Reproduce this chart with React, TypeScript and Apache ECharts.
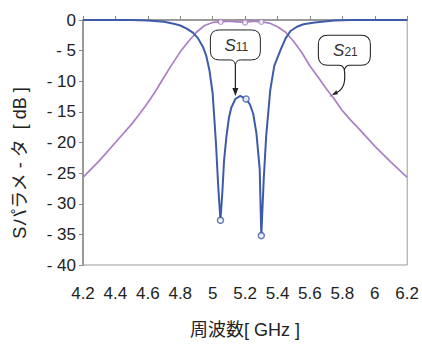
import React, { useEffect, useRef } from "react";
import * as echarts from "echarts";

// S11 (reflection) in dB vs frequency in GHz
const s11Data: [number, number][] = [
  [4.2, 0], [4.5, 0], [4.6, -0.1], [4.7, -0.3], [4.76, -0.6], [4.8, -0.9],
  [4.84, -1.4], [4.88, -2.1], [4.91, -3.0], [4.94, -4.4], [4.96, -5.8],
  [4.98, -8.2], [5.0, -12.0], [5.02, -20.0], [5.035, -27.5], [5.048, -32.7],
  [5.06, -28.0], [5.07, -23.0], [5.085, -19.0], [5.1, -16.0], [5.115, -14.3],
  [5.14, -12.9], [5.17, -12.4], [5.206, -12.9], [5.23, -13.8], [5.25, -15.3],
  [5.27, -18.5], [5.29, -24.3], [5.3, -35.2], [5.315, -26.0], [5.33, -19.0],
  [5.355, -11.5], [5.38, -7.5], [5.42, -4.8], [5.45, -3.0], [5.48, -1.8],
  [5.52, -1.1], [5.56, -0.7], [5.63, -0.4], [5.75, -0.1], [5.85, 0], [6.2, 0],
];
const s11Markers: [number, number][] = [[5.048, -32.7], [5.206, -12.9], [5.3, -35.2]];

// S21 (transmission) in dB vs frequency in GHz
const s21Data: [number, number][] = [
  [4.2, -25.7], [4.3, -23.0], [4.4, -20.0], [4.5, -17.0], [4.55, -15.3],
  [4.6, -13.5], [4.65, -11.5], [4.7, -9.3], [4.75, -7.2], [4.8, -5.2],
  [4.85, -3.5], [4.9, -2.0], [4.95, -0.9], [5.0, -0.4], [5.05, -0.3],
  [5.1, -0.2], [5.15, -0.3], [5.2, -0.4], [5.25, -0.2], [5.3, -0.3],
  [5.35, -0.5], [5.4, -1.1], [5.45, -2.0], [5.5, -3.5], [5.55, -5.3],
  [5.6, -7.5], [5.65, -9.3], [5.7, -11.2], [5.75, -12.9], [5.8, -14.8],
  [5.85, -16.3], [5.9, -17.7], [6.0, -20.6], [6.1, -23.2], [6.2, -25.7],
];
const s21Markers: [number, number][] = [[5.05, -0.3], [5.2, -0.4], [5.3, -0.3]];

// annotation anchors (data coords of the arrow tips)
const s11Arrow: [number, number] = [5.14, -12.4];
const s21Arrow: [number, number] = [5.72, -12.6];

const xName = "周波数[ GHz ]";
const yName = "Sパラメ - タ  [ dB ]";

const BLUE = "#3d5ba8";
const PURPLE = "#a980c4";
const FONT = "'Liberation Sans', Arial, 'Noto Sans CJK JP', sans-serif";

const calloutPath =
  "M 9 0 L 41 0 Q 50 0 50 9 L 50 21 Q 50 30 41 30 L 30 30 Q 26 30 25 35 Q 24 30 20 30 L 9 30 Q 0 30 0 21 L 0 9 Q 0 0 9 0 Z";

let registered = false;

export default function App() {
  const ref = useRef<HTMLDivElement>(null);
  useEffect(() => {
    if (!ref.current) return;
    if (!registered) {
      echarts.graphic.registerShape("callout", echarts.graphic.extendPath(calloutPath, {}) as any);
      registered = true;
    }
    const chart = echarts.init(ref.current, undefined, { renderer: "svg" });
    chart.setOption({
      animation: false,
      grid: {
        left: 83, right: 11, top: 20, bottom: 72,
        show: true, borderColor: "#999", borderWidth: 1,
      },
      xAxis: {
        type: "value", min: 4.2, max: 6.2, interval: 0.2,
        name: xName, nameLocation: "middle", nameGap: 56,
        nameTextStyle: { fontSize: 18, color: "#222", fontFamily: FONT },
        axisLine: { show: true, lineStyle: { color: "#888", width: 1.5 } },
        axisTick: { show: true, inside: true, length: 4, lineStyle: { color: "#888" } },
        splitLine: { show: false },
        axisLabel: {
          fontSize: 17, color: "#222", fontFamily: FONT, margin: 20,
          formatter: (v: number) => String(Math.round(v * 10) / 10),
        },
      },
      yAxis: {
        type: "value", min: -40, max: 0, interval: 5,
        axisLine: { show: true, lineStyle: { color: "#888", width: 1.5 } },
        axisTick: { show: true, inside: false, length: 4, lineStyle: { color: "#888" } },
        splitLine: { show: false },
        axisLabel: {
          fontSize: 17, color: "#222", fontFamily: FONT, margin: 7,
          formatter: (v: number) => (v === 0 ? "0" : "- " + Math.abs(v)),
        },
      },
      series: [
        {
          type: "line", data: s21Data, symbol: "none", z: 2,
          lineStyle: { color: PURPLE, width: 1.7 },
        },
        {
          type: "line", data: s11Data, symbol: "none", z: 3,
          lineStyle: { color: BLUE, width: 2 },
        },
        {
          type: "scatter", data: s21Markers, symbol: "circle", symbolSize: 5, z: 4,
          itemStyle: { color: "#fff", borderColor: PURPLE, borderWidth: 1.3 },
        },
        {
          type: "scatter", data: s11Markers, symbol: "circle", symbolSize: 6, z: 4,
          itemStyle: { color: "#fff", borderColor: BLUE, borderWidth: 1.5 },
        },
      ],
    });

    const p1 = chart.convertToPixel({ gridIndex: 0 }, s11Arrow) as number[];
    const p2 = chart.convertToPixel({ gridIndex: 0 }, s21Arrow) as number[];

    const label = (cx: number, cy: number, sub: string) => ({
      type: "text", x: cx, y: cy, z: 101,
      style: {
        text: "{s|S}{n|" + sub + "}",
        align: "center", verticalAlign: "middle",
        rich: {
          s: { fontSize: 17, fontStyle: "italic", fontFamily: FONT, fill: "#333", verticalAlign: "bottom", lineHeight: 18 },
          n: { fontSize: 12, fontFamily: FONT, fill: "#333", verticalAlign: "bottom", lineHeight: 18, padding: [0, 0, 1, 0] },
        },
      },
    });

    // S11 callout
    const b1x = p1[0] - 25, b1y = p1[1] - 66;
    // S21 callout
    const b2x = p2[0] - 11, b2y = p2[1] - 62;
    const t2x = b2x + 26, t2y = b2y + 35;

    chart.setOption({
      graphic: [
        {
          type: "callout", x: b1x, y: b1y, z: 100,
          style: { fill: "#fff", stroke: "#222", lineWidth: 1 },
        },
        label(b1x + 26, b1y + 15, "11"),
        {
          type: "line", z: 100,
          shape: { x1: p1[0], y1: b1y + 35, x2: p1[0], y2: p1[1] - 6 },
          style: { stroke: "#222", lineWidth: 1.2 },
        },
        {
          type: "polygon", z: 100,
          shape: { points: [[p1[0] - 3, p1[1] - 8], [p1[0] + 3, p1[1] - 8], [p1[0], p1[1]]] },
          style: { fill: "#222" },
        },
        {
          type: "callout", x: b2x, y: b2y, z: 100, scaleX: 1.04,
          style: { fill: "#fff", stroke: "#222", lineWidth: 1, strokeNoScale: true },
        },
        label(b2x + 27, b2y + 15, "21"),
        {
          type: "bezierCurve", z: 100,
          shape: {
            x1: t2x, y1: t2y, cpx1: t2x + 2, cpy1: t2y + 16,
            cpx2: t2x - 3, cpy2: p2[1] - 6, x2: p2[0] + 4, y2: p2[1] - 3,
          },
          style: { stroke: "#222", lineWidth: 1.2, fill: "none" },
        },
        {
          type: "polygon", z: 100,
          shape: { points: [[p2[0] + 7, p2[1] - 7], [p2[0] + 2, p2[1] - 1.5], [p2[0], p2[1]], [p2[0] + 1.5, p2[1] - 2], [p2[0] + 8.5, p2[1] - 3]] },
          style: { fill: "#222" },
        },
        {
          type: "text", x: 20, y: 163, rotation: Math.PI / 2, z: 100,
          style: {
            text: yName, fontSize: 18, fontFamily: FONT, fill: "#222",
            align: "center", verticalAlign: "middle",
          },
        },
      ],
    });

    return () => chart.dispose();
  }, []);
  return (
    <div
      ref={ref}
      style={{ position: "absolute", left: 0, top: 0, width: 422, height: 344 }}
    />
  );
}
